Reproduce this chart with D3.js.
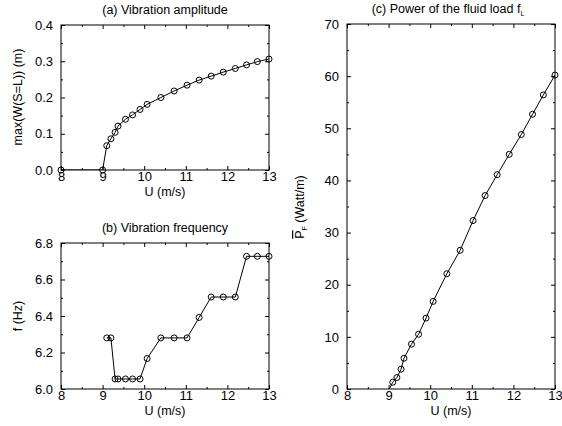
<!DOCTYPE html>
<html>
<head>
  <meta charset="utf-8">
  <script src="https://d3js.org/d3.v7.min.js"></script>
  <style type="text/css">
  body { margin: 0; background: #fff; }
  svg { display: block; font-family: "Liberation Sans", Arial, sans-serif; }
  .axis path { display: none; }
  .axis line { stroke: #000; stroke-width: 1; }
  .axis text { font-size: 13px; fill: #000; }
  .frame { fill: none; stroke: #000; stroke-width: 1; }
  .curve { fill: none; stroke: #000; stroke-width: 1; }
  .mark { fill: none; stroke: #000; stroke-width: 1; }
  .label, .title { font-size: 12.5px; fill: #000; }
  </style>
</head>
<body>
<script type="text/javascript">
  // flow speed U (m/s) shared by the three panels
  var speed = [9.1, 9.2, 9.3, 9.37, 9.55, 9.72, 9.9, 10.07, 10.4, 10.72, 11.03, 11.32, 11.61, 11.9, 12.19, 12.46, 12.72, 13.0];

  // (a) amplitude, starts with the two zero points
  var ampSpeed = [8, 9].concat(speed);
  var amplitude = [0, 0, 0.067, 0.086, 0.104, 0.121, 0.140, 0.152, 0.167, 0.181, 0.200, 0.218, 0.234, 0.248, 0.259, 0.270, 0.280, 0.290, 0.299, 0.306];

  // (b) frequency
  var frequency = [6.28, 6.28, 6.055, 6.055, 6.055, 6.055, 6.055, 6.167, 6.28, 6.28, 6.28, 6.392, 6.504, 6.504, 6.504, 6.727, 6.727, 6.727];

  // (c) power, the first value is just below zero so only the line shows
  var powSpeed = [9.0].concat(speed);
  var power = [-0.3, 1.3, 2.2, 3.8, 5.9, 8.6, 10.5, 13.6, 16.8, 22.1, 26.6, 32.3, 37.1, 41.1, 45.0, 48.8, 52.7, 56.4, 60.2];

  var xTicks = [8, 9, 10, 11, 12, 13];
  var xMinor = [8.5, 9.5, 10.5, 11.5, 12.5];

  var svg = d3.select("body").append("svg")
    .attr("width", 562)
    .attr("height", 426);

  function panel(p) {
    var x = d3.scaleLinear().domain([8, 13]).range([p.left, p.right]);
    var y = d3.scaleLinear().domain(p.ydom).range([p.bottom, p.top]);
    var g = svg.append("g");
    var id = "clip" + p.name;

    g.append("clipPath").attr("id", id)
      .append("rect")
      .attr("x", p.left).attr("y", p.top)
      .attr("width", p.right - p.left).attr("height", p.bottom - p.top);

    // major + minor ticks on all sides, pointing in
    g.append("g").attr("class", "axis")
      .attr("transform", "translate(0," + p.bottom + ")")
      .call(d3.axisBottom(x).tickValues(xTicks).tickSize(-4).tickPadding(2).tickFormat(d3.format("d")));
    g.append("g").attr("class", "axis")
      .attr("transform", "translate(0," + p.bottom + ")")
      .call(d3.axisBottom(x).tickValues(xMinor).tickSize(-2).tickFormat(""));
    g.append("g").attr("class", "axis")
      .attr("transform", "translate(0," + p.top + ")")
      .call(d3.axisTop(x).tickValues(xTicks).tickSize(-4).tickFormat(""));
    g.append("g").attr("class", "axis")
      .attr("transform", "translate(0," + p.top + ")")
      .call(d3.axisTop(x).tickValues(xMinor).tickSize(-2).tickFormat(""));

    g.append("g").attr("class", "axis")
      .attr("transform", "translate(" + p.left + ",0)")
      .call(d3.axisLeft(y).tickValues(p.yticks).tickSize(-4).tickPadding(8).tickFormat(p.yfmt));
    g.append("g").attr("class", "axis")
      .attr("transform", "translate(" + p.left + ",0)")
      .call(d3.axisLeft(y).tickValues(p.yminor).tickSize(-2).tickFormat(""));
    g.append("g").attr("class", "axis")
      .attr("transform", "translate(" + p.right + ",0)")
      .call(d3.axisRight(y).tickValues(p.yticks).tickSize(-4).tickFormat(""));
    g.append("g").attr("class", "axis")
      .attr("transform", "translate(" + p.right + ",0)")
      .call(d3.axisRight(y).tickValues(p.yminor).tickSize(-2).tickFormat(""));

    g.append("rect").attr("class", "frame")
      .attr("x", p.left).attr("y", p.top)
      .attr("width", p.right - p.left).attr("height", p.bottom - p.top);

    var pts = p.xs.map(function(d, i) { return [d, p.ys[i]]; });

    g.append("path").attr("class", "curve")
      .attr("clip-path", "url(#" + id + ")")
      .attr("d", d3.line().x(function(d) { return x(d[0]); }).y(function(d) { return y(d[1]); })(pts));

    g.selectAll("circle.mark")
      .data(pts.filter(function(d) { return d[1] >= p.ydom[0]; }))
      .enter().append("circle")
      .attr("class", "mark")
      .attr("cx", function(d) { return x(d[0]); })
      .attr("cy", function(d) { return y(d[1]); })
      .attr("r", 3);

    // x label
    g.append("text").attr("class", "label")
      .attr("x", (p.left + p.right) / 2)
      .attr("y", p.bottom + 26)
      .attr("text-anchor", "middle")
      .text("U (m/s)");

    return g;
  }

  var ga = panel({
    name: "a", left: 61, right: 269, top: 25, bottom: 170,
    ydom: [0, 0.4], yticks: [0, 0.1, 0.2, 0.3, 0.4], yminor: [0.05, 0.15, 0.25, 0.35],
    yfmt: d3.format(".1f"), xs: ampSpeed, ys: amplitude
  });
  ga.append("text").attr("class", "title")
    .attr("x", 165).attr("y", 14).attr("text-anchor", "middle")
    .text("(a) Vibration amplitude");
  ga.append("text").attr("class", "label")
    .attr("transform", "translate(22,97) rotate(-90)")
    .attr("text-anchor", "middle")
    .text("max(W(S=L)) (m)");

  var gb = panel({
    name: "b", left: 61, right: 269, top: 243, bottom: 389,
    ydom: [6.0, 6.8], yticks: [6.0, 6.2, 6.4, 6.6, 6.8], yminor: [6.1, 6.3, 6.5, 6.7],
    yfmt: d3.format(".1f"), xs: speed, ys: frequency
  });
  gb.append("text").attr("class", "title")
    .attr("x", 165).attr("y", 232).attr("text-anchor", "middle")
    .text("(b) Vibration frequency");
  gb.append("text").attr("class", "label")
    .attr("transform", "translate(22,316) rotate(-90)")
    .attr("text-anchor", "middle")
    .text("f (Hz)");

  var gc = panel({
    name: "c", left: 347, right: 555, top: 24, bottom: 389,
    ydom: [0, 70], yticks: [0, 10, 20, 30, 40, 50, 60, 70], yminor: [5, 15, 25, 35, 45, 55, 65],
    yfmt: d3.format("d"), xs: powSpeed, ys: power
  });
  var tc = gc.append("text").attr("class", "title")
    .attr("x", 448).attr("y", 13).attr("text-anchor", "middle");
  tc.append("tspan").text("(c) Power of the fluid load f");
  tc.append("tspan").attr("font-size", "7px").attr("dy", 3).text("L");

  var lc = gc.append("text").attr("class", "label")
    .attr("transform", "translate(304,207) rotate(-90)")
    .attr("text-anchor", "middle");
  lc.append("tspan").style("text-decoration", "overline").text("P");
  lc.append("tspan").attr("font-size", "7px").attr("dy", 3).text("F");
  lc.append("tspan").attr("dy", -3).text(" (Watt/m)");
</script>
</body>
</html>
